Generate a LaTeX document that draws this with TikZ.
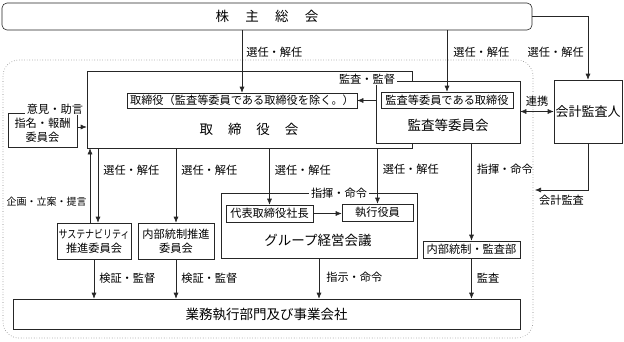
\documentclass[tikz,border=0pt]{standalone}
\usepackage{fontspec}
\setmainfont{Noto Sans CJK JP}
\usepackage{graphicx}
\usetikzlibrary{arrows.meta, positioning}

\begin{document}
\begin{tikzpicture}[
        x=1pt, y=-1pt,
        font=\fontsize{11.2}{14}\selectfont,
        line width=0.6pt, draw=black!85, text=black,
        obj/.style={draw, fill=white, inner sep=0pt, align=center},
        big/.style={font=\fontsize{13.5}{16}\selectfont},
        lbl/.style={inner sep=1pt},
        cut/.style={fill=white, inner xsep=2pt, inner ysep=0.5pt},
        >={Latex[length=6pt,width=5pt]}
      ]
        \useasboundingbox (0,0) rectangle (624,341);
        \draw[dotted, black!50, rounded corners=16pt] (3,60) rectangle (533,338);

        \node[obj, big, rounded corners=5pt, minimum width=530pt, minimum height=27pt] (kabu) at (267,16.5) {株\hspace{1.2em}主\hspace{1.2em}総\hspace{1.2em}会};
        \node[obj, minimum width=325pt, minimum height=77pt] (tori) at (249.5,109.5) {};
        \node[big] (toriname) at (249,129) {取\hspace{1.1em}締\hspace{1.1em}役\hspace{1.1em}会};
        \node[obj, minimum width=230pt, minimum height=15pt] (toriin) at (242,100.5) {取締役（監査等委員である取締役を除く。）};
        \node[obj, minimum width=144pt, minimum height=62pt] (kansa) at (448,112) {};
        \node[big] (kansaname) at (448,125) {監査等委員会};
        \node[obj, minimum width=132pt, minimum height=16pt] (kansain) at (447,100) {監査等委員である取締役};
        \node[cut] (kansalbl) at (367,79) {監査・監督};
        \node[obj, font=\fontsize{13}{15}\selectfont, minimum width=68pt, minimum height=63pt] (kaikei) at (588,111.5) {会計監査人};
        \coordinate (kaiend) at (535,190);

        \node[obj, minimum width=69pt, minimum height=34pt] (shimei) at (42.5,130) {指名・報酬\\委員会};
        \node[cut] (iken) at (55,109) {意見・助言};
        \node[obj, minimum width=74pt, minimum height=36pt] (sus) at (94,241) {\scalebox{0.8}[1]{サステナビリティ}\\推進委員会};
        \node[obj, minimum width=76pt, minimum height=36pt] (naibu) at (176,241) {内部統制推進\\委員会};
        \node[obj, minimum width=196pt, minimum height=65pt] (group) at (319,225.5) {};
        \node[big] (groupname) at (318,240) {グループ経営会議};
        \node[cut] (shiki) at (339,193) {指揮・命令};
        \node[obj, minimum width=87pt, minimum height=17pt] (daihyo) at (269.5,213.5) {代表取締役社長};
        \node[obj, minimum width=71pt, minimum height=17pt] (shikko) at (377.5,212.5) {執行役員};
        \node[obj, minimum width=97pt, minimum height=17pt] (audit) at (471.5,249.5) {内部統制・監査部};
        \node[obj, big, minimum width=507pt, minimum height=30pt] (gyomu) at (266.5,314) {業務執行部門及び事業会社};

        \draw[->] (toriin.north |- kabu.south) -- node[lbl, right=3pt, pos=.35]{選任・解任} (toriin.north);
        \draw[->] (kansain.north |- kabu.south) -- node[lbl, right=5pt, pos=.35]{選任・解任} (kansain.north);
        \draw[->] (kabu.east) -| node[lbl, left=3pt, pos=.78]{選任・解任} (kaikei.north);
        \draw[->] (toriin.east -| kansa.west) -- (toriin.east);
        \draw[<->] (kansa.east |- kaikei) -- node[lbl, above=4pt]{連携} (kaikei.west);
        \draw[->] (kaikei.south) |- node[lbl, below=4pt, pos=.75]{会計監査} (kaiend);
        \draw[->] ([yshift=3pt]shimei.east) -- ([yshift=3pt]shimei.east -| tori.west);

        \draw[->] ([xshift=-4pt]sus.north) -- node[lbl, left=2pt, pos=.28, font=\fontsize{10}{12}\selectfont]{企画・立案・提言} ([xshift=-4pt]sus.north |- tori.south);
        \draw[->] ([xshift=4pt]sus.north |- tori.south) -- node[lbl, right=4pt, pos=.29]{選任・解任} ([xshift=4pt]sus.north);
        \draw[->] (naibu.north |- tori.south) -- node[lbl, right=4pt, pos=.29]{選任・解任} (naibu.north);
        \draw[->] (daihyo.north |- tori.south) -- node[lbl, right=4pt, pos=.39]{選任・解任} (daihyo.north);
        \draw[->] (shikko.north |- tori.south) -- node[lbl, right=4pt, pos=.375]{選任・解任} (shikko.north);
        \draw[->] (audit.north |- kansa.south) -- node[lbl, right=4pt, pos=.265]{指揮・命令} (audit.north);
        \draw[->] (daihyo.east) -- (daihyo.east -| shikko.west);

        \draw[->] (sus.south) -- node[lbl, right=4pt, pos=.48]{検証・監督} (sus.south |- gyomu.north);
        \draw[->] (naibu.south) -- node[lbl, right=4pt, pos=.48]{検証・監督} (naibu.south |- gyomu.north);
        \draw[->] (group.south) -- node[lbl, right=6pt, pos=.48]{指示・命令} (group.south |- gyomu.north);
        \draw[->] (audit.south) -- node[lbl, right=4pt, pos=.48]{監査} (audit.south |- gyomu.north);
    \end{tikzpicture}
\end{document}
